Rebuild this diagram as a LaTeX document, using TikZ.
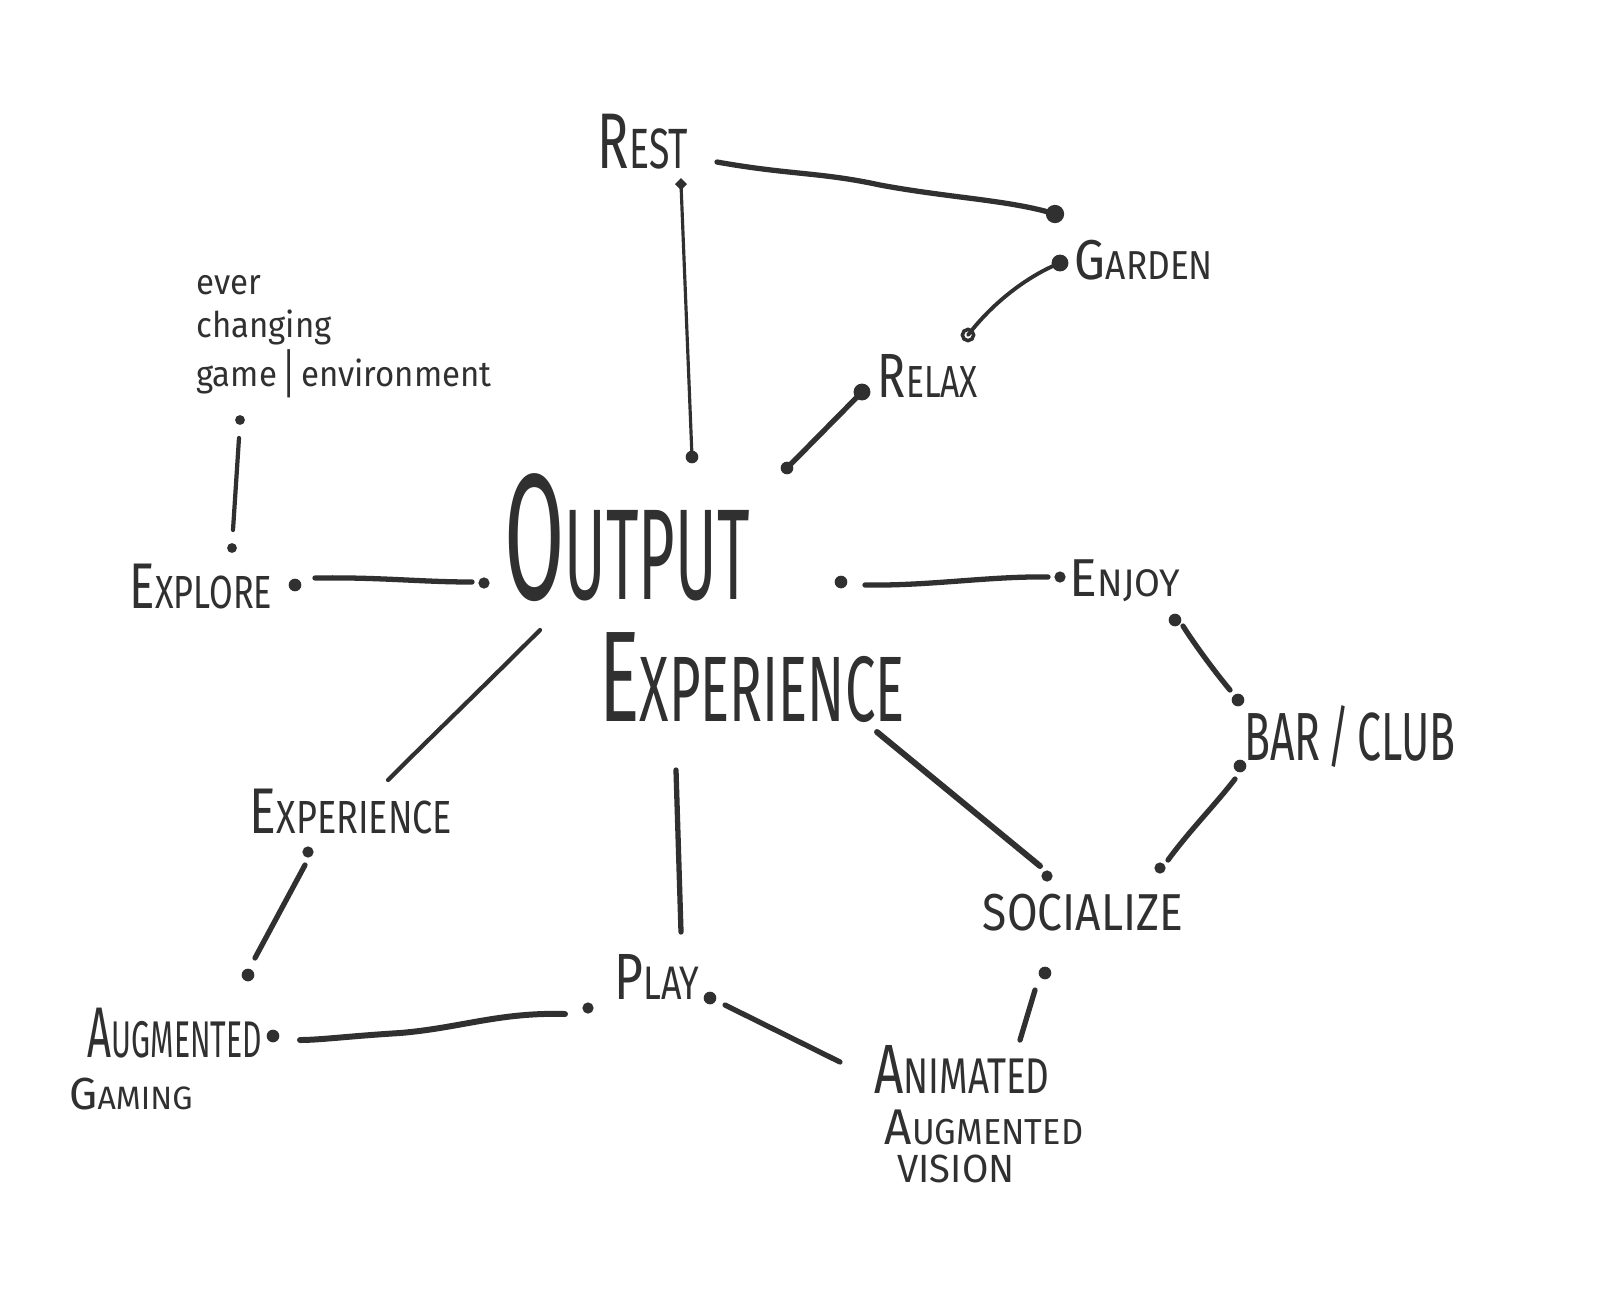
\documentclass[tikz,border=0pt]{standalone}
\usepackage{fontspec}
\setmainfont{Fira Sans}
\usepackage{graphicx}
\definecolor{ink}{RGB}{48,48,48}
\newcommand\hw[3]{\resizebox*{#1cm}{#2cm}{#3}}
\newcommand\fc[2]{#1\scalebox{0.72}{#2}}
\begin{document}
\begin{tikzpicture}[x=0.01cm,y=-0.01cm,
  lbl/.style={inner sep=0pt,outer sep=0pt,text=ink},
  con/.style={draw=ink,line width=1.5pt,line cap=round},
  thincon/.style={draw=ink,line width=0.9pt,line cap=round},
  pt/.style={fill=ink}]
\useasboundingbox (0,0) rectangle (1600,1296);
\fill[white] (0,0) rectangle (1600,1296);
% labels
\node[lbl] (rest) at (643,142) {\hw{0.90}{0.55}{\fc{R}{EST}}};
\node[lbl] (garden) at (1144,260) {\hw{1.38}{0.40}{\fc{G}{ARDEN}}};
\node[lbl] (relax) at (928,376) {\hw{1.00}{0.43}{\fc{R}{ELAX}}};
\node[lbl] (ever) at (344,332) {\hw{2.95}{1.34}{\begin{tabular}{@{}l@{}}ever\\changing\\game\,\raisebox{-0.35ex}{\scalebox{1}[1.5]{|}}\,environment\end{tabular}}};
\node[lbl] (explore) at (201,587) {\hw{1.42}{0.45}{\fc{E}{XPLORE}}};
\node[lbl] (output) at (627,538) {\hw{2.45}{1.28}{\fc{O}{UTPUT}}};
\node[lbl] (experience) at (752,678) {\hw{3.05}{0.90}{\fc{E}{XPERIENCE}}};
\node[lbl] (enjoy) at (1125,581) {\hw{1.10}{0.42}{\fc{E}{NJOY}}};
\node[lbl] (barclub) at (1350,737) {\hw{2.11}{0.62}{BAR\,/\,CLUB}};
\node[lbl] (exp2) at (351,812) {\hw{2.02}{0.45}{\fc{E}{XPERIENCE}}};
\node[lbl] (socialize) at (1083,913) {\hw{2.00}{0.37}{SOCIALIZE}};
\node[lbl] (play) at (657,977) {\hw{0.85}{0.45}{\fc{P}{LAY}}};
\node[lbl] (aug) at (175,1033) {\hw{1.74}{0.50}{\fc{A}{UGMENTED}}};
\node[lbl] (gaming) at (131,1094) {\hw{1.23}{0.32}{\fc{G}{AMING}}};
\node[lbl] (animated) at (962,1069) {\hw{1.75}{0.48}{\fc{A}{NIMATED}}};
\node[lbl] (aug2) at (984,1127) {\hw{1.98}{0.35}{\fc{A}{UGMENTED}}};
\node[lbl] (vision) at (956,1169) {\hw{1.17}{0.28}{VISION}};
% connector end points
\coordinate (rg1) at (717,162);
\coordinate (rg2) at (1055,214);
\coordinate (ro1) at (681,184);
\coordinate (ro2) at (692,457);
\coordinate (gr1) at (1060,263);
\coordinate (gr2) at (968,335);
\coordinate (rl1) at (862,392);
\coordinate (rl2) at (787,468);
\coordinate (ee0) at (240,420);
\coordinate (ee1) at (239,438);
\coordinate (ee2) at (233,530);
\coordinate (ee3) at (232,548);
\coordinate (xo0) at (295,585);
\coordinate (xo1) at (315,578);
\coordinate (xo2) at (472,582);
\coordinate (xo3) at (484,583);
\coordinate (oe0) at (841,582);
\coordinate (oe1) at (865,585);
\coordinate (oe2) at (1048,577);
\coordinate (oe3) at (1060,577);
\coordinate (eb0) at (1175,620);
\coordinate (eb1) at (1183,626);
\coordinate (eb2) at (1230,690);
\coordinate (eb3) at (1238,700);
\coordinate (bs0) at (1240,766);
\coordinate (bs1) at (1235,779);
\coordinate (bs2) at (1168,860);
\coordinate (bs3) at (1160,868);
\coordinate (xs1) at (877,732);
\coordinate (xs2) at (1040,866);
\coordinate (xs3) at (1047,876);
\coordinate (ox1) at (540,630);
\coordinate (ox2) at (388,780);
\coordinate (xa0) at (308,852);
\coordinate (xa1) at (305,865);
\coordinate (xa2) at (255,958);
\coordinate (xa3) at (248,975);
\coordinate (op1) at (676,770);
\coordinate (op2) at (681,932);
\coordinate (pa0) at (588,1008);
\coordinate (pa1) at (565,1014);
\coordinate (pa2) at (300,1040);
\coordinate (pa3) at (273,1036);
\coordinate (pn0) at (710,998);
\coordinate (pn1) at (725,1005);
\coordinate (pn2) at (840,1062);
\coordinate (sa0) at (1045,973);
\coordinate (sa1) at (1035,990);
\coordinate (sa2) at (1020,1040);
% connectors
\draw[con] (rg1) .. controls (790,175) and (820,172) .. (880,185) .. controls (950,198) and (1010,200) .. (rg2);
\fill[pt] (rg2) circle (2.6pt);
\draw[thincon] (ro1) -- (ro2);
\fill[pt] (ro1) +(-6,0) -- +(0,-6) -- +(6,0) -- +(0,6) -- cycle;
\fill[pt] (ro2) circle (1.8pt);
\draw[con,line width=1.1pt] (gr1) .. controls (1030,275) and (995,300) .. (gr2);
\fill[pt] (gr1) circle (2.4pt);
\draw[ink,line width=1pt] (gr2) circle (1.6pt);
\draw[con] (rl1) -- (rl2);
\fill[pt] (rl1) circle (2.4pt);
\fill[pt] (rl2) circle (1.8pt);
\draw[con,line width=1.2pt] (ee1) -- (ee2);
\fill[pt] (ee0) circle (1.4pt);
\fill[pt] (ee3) circle (1.4pt);
\draw[con] (xo1) .. controls (380,577) and (420,582) .. (xo2);
\fill[pt] (xo0) circle (1.8pt);
\fill[pt] (xo3) circle (1.6pt);
\draw[con] (oe1) .. controls (930,586) and (990,576) .. (oe2);
\fill[pt] (oe0) circle (1.8pt);
\fill[pt] (oe3) circle (1.6pt);
\draw[con] (eb1) .. controls (1195,645) and (1215,672) .. (eb2);
\fill[pt] (eb0) circle (1.8pt);
\fill[pt] (eb3) circle (1.8pt);
\draw[con] (bs1) .. controls (1215,805) and (1190,830) .. (bs2);
\fill[pt] (bs0) circle (1.8pt);
\fill[pt] (bs3) circle (1.6pt);
\draw[con,line width=1.7pt] (xs1) -- (xs2);
\fill[pt] (xs3) circle (1.6pt);
\draw[con,line width=1.2pt] (ox1) .. controls (480,690) and (430,738) .. (ox2);
\draw[con] (xa1) -- (xa2);
\fill[pt] (xa0) circle (1.6pt);
\fill[pt] (xa3) circle (1.8pt);
\draw[con] (op1) -- (op2);
\draw[con,line width=1.7pt] (pa1) .. controls (500,1012) and (460,1028) .. (400,1033) .. controls (350,1036) and (320,1040) .. (pa2);
\fill[pt] (pa0) circle (1.6pt);
\fill[pt] (pa3) circle (1.8pt);
\draw[con] (pn1) -- (pn2);
\fill[pt] (pn0) circle (1.8pt);
\draw[con] (sa1) -- (sa2);
\fill[pt] (sa0) circle (1.8pt);
\end{tikzpicture}
\end{document}
